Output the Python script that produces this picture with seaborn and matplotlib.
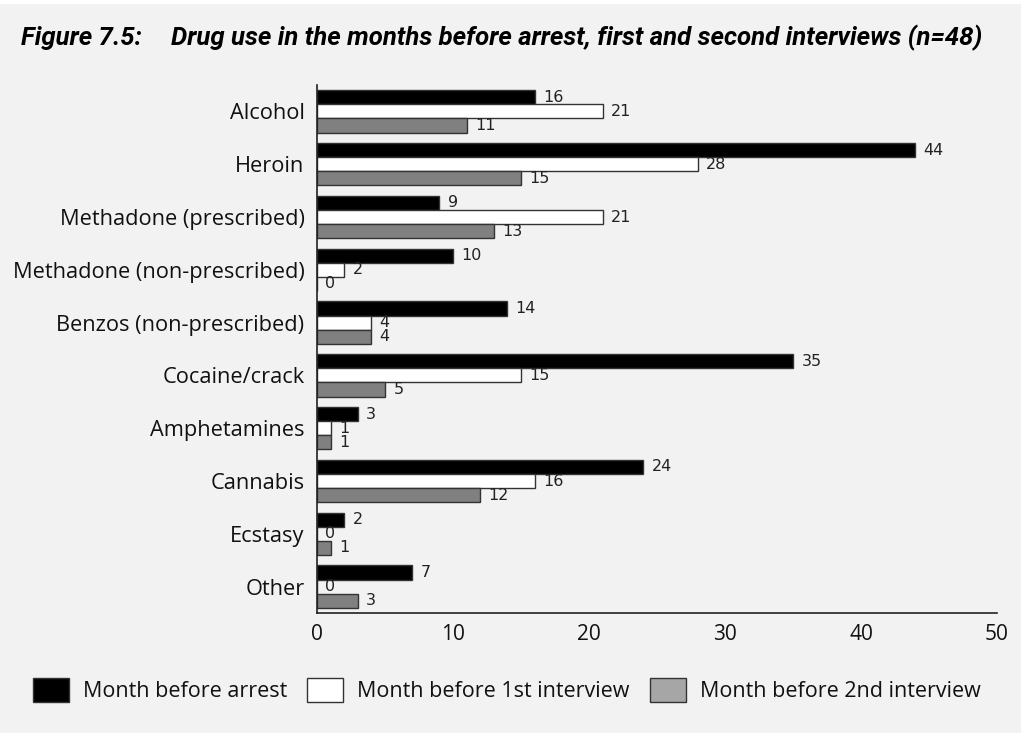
import matplotlib
matplotlib.use("Agg")
import matplotlib.pyplot as plt
from matplotlib.patches import Patch, Rectangle
from matplotlib.ticker import FixedLocator
import pandas as pd
import seaborn as sns

# Drug use counts (n=48)
drugs = [
    "Alcohol", "Heroin", "Methadone (prescribed)", "Methadone (non-prescribed)",
    "Benzos (non-prescribed)", "Cocaine/crack", "Amphetamines", "Cannabis",
    "Ecstasy", "Other",
]
before_arrest = [16, 44, 9, 10, 14, 35, 3, 24, 2, 7]
before_first = [21, 28, 21, 2, 4, 15, 1, 16, 0, 0]
before_second = [11, 15, 13, 0, 4, 5, 1, 12, 1, 3]
periods = ["Month before arrest", "Month before 1st interview", "Month before 2nd interview"]
x_ticks = [0, 10, 20, 30, 40, 50]

bar_colors = ["#000000", "#ffffff", "#808080"]
legend_colors = ["#000000", "#ffffff", "#a6a6a6"]
edge = "#333333"
bg = "#f2f2f2"

rows = []
for period, vals in zip(periods, [before_arrest, before_first, before_second]):
    for d, v in zip(drugs, vals):
        rows.append({"drug": d, "period": period, "count": v})
df = pd.DataFrame(rows)

sns.set_theme(style="white")
plt.rcParams["font.family"] = ["Open Sans", "DejaVu Sans"]

fig = plt.figure(figsize=(10.21, 7.33), dpi=100, facecolor=bg)
fig.patches.append(Rectangle((0, 1 - 4 / 733), 1, 4 / 733, transform=fig.transFigure,
                             facecolor="white", edgecolor="none", zorder=0))
ax = fig.add_axes([317 / 1021, 1 - 613 / 733, (997 - 317) / 1021, (613 - 85) / 733])
ax.set_facecolor(bg)

sns.barplot(data=df, y="drug", x="count", hue="period", order=drugs,
            hue_order=periods, palette=bar_colors, orient="h", width=0.8,
            edgecolor=edge, linewidth=1.0, saturation=1, legend=False, ax=ax)

for cont in ax.containers:
    ax.bar_label(cont, fmt="{:.0f}", padding=6, fontsize=11.5,
                 color="#222222", family="DejaVu Sans")

ax.set_xlim(0, 50)
ax.set_ylim(9.5, -0.5)
ax.set_xlabel("")
ax.set_ylabel("")
ax.xaxis.set_major_locator(FixedLocator(x_ticks))
ax.set_xticklabels([str(t) for t in x_ticks])

for s in ["top", "right"]:
    ax.spines[s].set_visible(False)
for s in ["left", "bottom"]:
    ax.spines[s].set_color("#222222")
    ax.spines[s].set_linewidth(1.2)

ax.tick_params(axis="x", direction="in", length=9, width=1.2, color="#222222",
               pad=8, labelsize=15, labelcolor="#111111")
ax.tick_params(axis="y", which="major", length=0, pad=9, labelsize=15.7,
               labelcolor="#111111")
ax.yaxis.set_minor_locator(FixedLocator([i - 0.5 for i in range(10)]))
ax.tick_params(axis="y", which="minor", direction="in", length=12, width=1.2,
               color="#222222")

# Title
title_font = dict(fontsize=18.5, fontweight="bold", fontstyle="italic",
                  family=["Roboto", "DejaVu Sans"], va="baseline", ha="left",
                  color="#000000")
fig.text(21 / 1021, 1 - 45 / 733, "Figure 7.5:", **title_font)
fig.text(171 / 1021, 1 - 45 / 733,
         "Drug use in the months before arrest, first and second interviews (n=48)",
         **title_font)

# Legend: one entry per swatch position
for x0, color, label in zip([33, 307, 650], legend_colors, periods):
    leg = fig.legend([Patch(facecolor=color, edgecolor=edge, linewidth=1.0)], [label],
                     loc="center left", bbox_to_anchor=(x0 / 1021, 1 - 690 / 733),
                     frameon=False, fontsize=15.5, handlelength=1.67, handleheight=1.35,
                     handletextpad=0.65, borderaxespad=0, borderpad=0)
    for t in leg.get_texts():
        t.set_color("#111111")

fig.savefig("out.png", dpi=100, facecolor=bg)
